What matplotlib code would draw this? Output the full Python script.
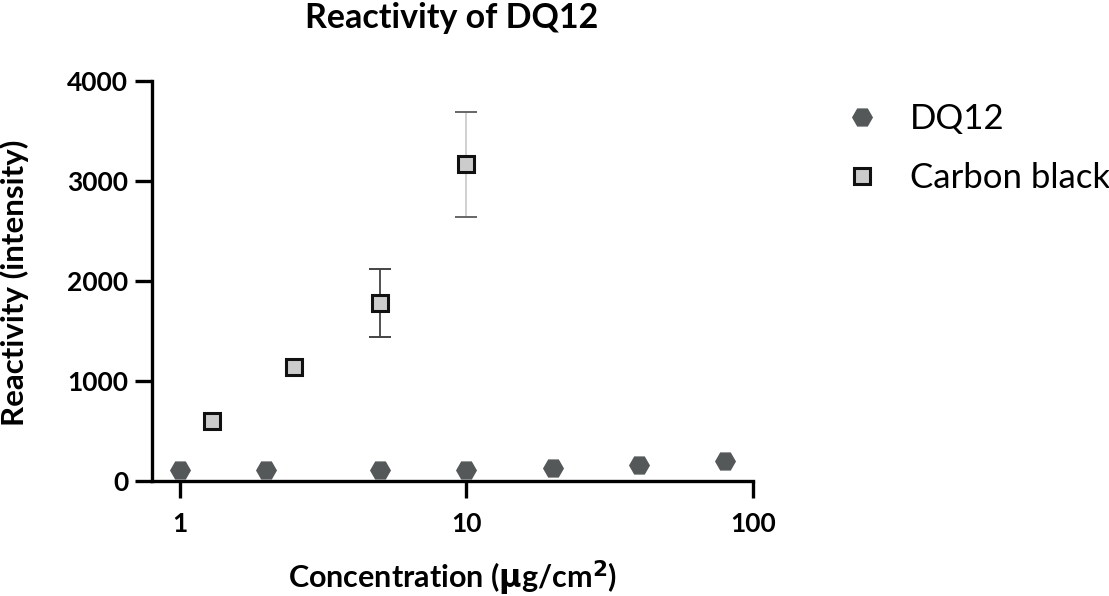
import numpy as np
import matplotlib.pyplot as plt

plt.rcParams['font.family'] = ['Lato', 'DejaVu Sans']

# Datos
dq12_x = [1, 2, 5, 10, 20, 40, 80]
dq12_y = [114, 114, 107, 114, 130, 157, 200]

cb_x = [1.3, 2.5, 5, 10]
cb_y = [602, 1135, 1785, 3170]
cb_err = [0, 0, 340, 525]
cb_err_line = ['#333333', '#333333', '#333333', '#c8c8c8']
cb_err_cap = ['#444444', '#444444', '#444444', '#666666']

x_ticks = [1, 10, 100]
x_tick_labels = ['1', '10', '100']
y_ticks = [0, 1000, 2000, 3000, 4000]

fig = plt.figure(figsize=(11.09, 5.96), dpi=100)
ax = fig.add_axes([0.137, 0.193, 0.542, 0.671])

# Barras de error (una por punto, colores distintos)
for x, y, e, lc, cc in zip(cb_x, cb_y, cb_err, cb_err_line, cb_err_cap):
    if e > 0:
        ax.errorbar([x], [y], yerr=[e], fmt='none', ecolor=lc, elinewidth=1.2,
                    capsize=0, zorder=2)
        ax.errorbar([x], [y], yerr=[e], fmt='none', ecolor=cc, elinewidth=0,
                    capsize=8, capthick=1.4, zorder=2)

ax.plot(dq12_x, dq12_y, linestyle='none', marker='H', markersize=14,
        color='#555859', markeredgecolor='#555859', label='DQ12',
        clip_on=False, zorder=3)
ax.plot(cb_x, cb_y, linestyle='none', marker='s', markersize=11.5,
        markerfacecolor='#cccccc', markeredgecolor='#111111',
        markeredgewidth=2.2, label='Carbon black', clip_on=False, zorder=4)

ax.set_xscale('log')
ax.set_xlim(0.8, 100)
ax.set_ylim(0, 4000)
ax.set_xticks(x_ticks)
ax.set_xticklabels(x_tick_labels)
ax.xaxis.set_minor_locator(plt.NullLocator())
ax.set_yticks(y_ticks)

for s in ['top', 'right']:
    ax.spines[s].set_visible(False)
for s in ['left', 'bottom']:
    ax.spines[s].set_linewidth(2.4)

ax.tick_params(axis='both', length=12, width=2.4, labelsize=19, pad=5)
for lab in ax.get_xticklabels() + ax.get_yticklabels():
    lab.set_fontweight('bold')
ax.tick_params(axis='x', pad=10)

fig.text(452 / 1109, 1 - 18 / 596, 'Reactivity of DQ12', fontsize=24.5,
         fontweight='bold', ha='center', va='center')
ax.set_xlabel('Concentration ($\\mathbf{\\mu}$g/cm$^\\mathbf{2}$)',
              fontsize=22, fontweight='bold', va='center')
ax.xaxis.set_label_coords(0.5, -0.2425)
ax.set_ylabel('Reactivity (intensity)', fontsize=22.5, fontweight='bold',
              va='center')
ax.yaxis.set_label_coords(-0.228, 0.496)

leg = fig.legend(loc='upper left', bbox_to_anchor=(845 / 1109, 1 - 103 / 596),
                 frameon=False, fontsize=25, handletextpad=0.87,
                 labelspacing=0.77, handlelength=1.0, borderpad=0,
                 borderaxespad=0)

fig.savefig('out.png', dpi=100)
